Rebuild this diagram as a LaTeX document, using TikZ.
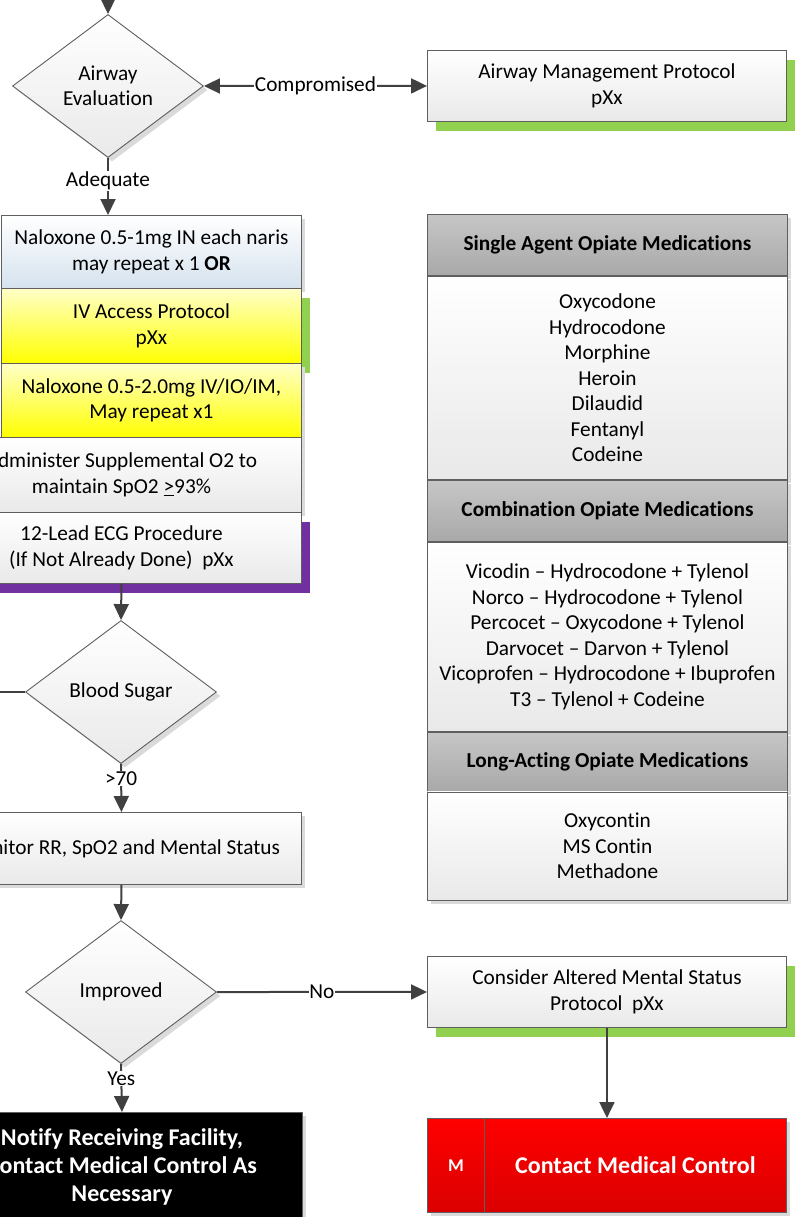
\documentclass[tikz,border=0pt]{standalone}
\usepackage{fontspec}
\setmainfont{Carlito}[Ligatures={NoCommon}]
\usetikzlibrary{arrows.meta,shapes.geometric,shadows}

\definecolor{wire}{HTML}{404040}
\definecolor{rim}{HTML}{5F5F5F}
\definecolor{paper}{HTML}{E9E9E9}
\definecolor{softshadow}{HTML}{DADADA}
\definecolor{protgreen}{HTML}{92D050}
\definecolor{procpurple}{HTML}{7030A0}
\definecolor{paleblue}{HTML}{D5E2EE}
\definecolor{paleyellow}{HTML}{FFFFC8}
\definecolor{fullyellow}{HTML}{FFFF00}
\definecolor{headtop}{HTML}{C6C6C6}
\definecolor{headbottom}{HTML}{A9A9A9}
\definecolor{alarmtop}{HTML}{FF0000}
\definecolor{alarmbottom}{HTML}{DA0000}

\tikzset{
  body text/.style={font=\fontsize{21.3}{25.5}\selectfont, align=center, text=black},
  stepbox/.style={body text, rectangle, draw=rim, line width=0.9pt,
    top color=white, bottom color=paper, inner sep=0pt, anchor=north west},
  decision/.style={body text, diamond, draw=rim, line width=0.9pt,
    top color=white, bottom color=paper, inner sep=0pt,
    minimum width=191pt, minimum height=143pt},
  soft shadow/.style={drop shadow={shadow xshift=4pt, shadow yshift=-4pt, fill=softshadow, opacity=1}},
  green shadow/.style={drop shadow={shadow xshift=9pt, shadow yshift=-10pt, fill=protgreen, opacity=1}},
  purple shadow/.style={drop shadow={shadow xshift=9pt, shadow yshift=-10pt, fill=procpurple, opacity=1}},
  yellowbox/.style={top color=paleyellow, bottom color=fullyellow},
  tablehead/.style={stepbox, top color=headtop, bottom color=headbottom,
    font=\fontsize{21.3}{25.5}\selectfont\bfseries, minimum width=360pt},
  tablebody/.style={stepbox, top color=white, bottom color=paper, minimum width=360pt},
  alarm/.style={stepbox, top color=alarmtop, bottom color=alarmbottom, text=white,
    font=\fontsize{24}{28}\selectfont\bfseries},
  flow/.style={draw=wire, line width=2pt, -{Triangle[length=16pt,width=15pt]}},
  bothways/.style={draw=wire, line width=2pt,
    {Triangle[length=16pt,width=15pt]}-{Triangle[length=16pt,width=15pt]}},
  plainwire/.style={draw=wire, line width=2pt},
  tag/.style={body text, fill=white, inner sep=0.8pt},
}

\begin{document}
\begin{tikzpicture}[x=1pt,y=-1pt]
\useasboundingbox (0,0) rectangle (797,1217);
\clip (0,0) rectangle (797,1217);

% ---- main column ----
\coordinate (entry) at (108,-20);
\node[decision, soft shadow] (airway) at (108,86) {Airway\\Evaluation};
\node[stepbox, green shadow, minimum width=359pt, minimum height=71pt] (amp) at (427,50)
  {Airway Management Protocol\\pXx};

\node[stepbox, soft shadow, bottom color=paleblue, minimum width=300pt, minimum height=73pt] (nalin) at (1,215)
  {Naloxone 0.5-1mg IN each naris\\may repeat x 1 \textbf{OR}};
\node[stepbox, yellowbox, green shadow, minimum width=300pt, minimum height=75pt] (ivap) at (1,288)
  {IV Access Protocol\\pXx};
\node[stepbox, yellowbox, soft shadow, minimum width=300pt, minimum height=74pt] (nalv) at (1,363)
  {Naloxone 0.5-2.0mg IV/IO/IM,\\May repeat x1};
\node[stepbox, soft shadow, minimum width=360pt, minimum height=75pt] (oxy) at (-59,437)
  {Administer Supplemental O2 to\\maintain SpO2 \underline{>}93\%};
\node[stepbox, purple shadow, minimum width=360pt, minimum height=71pt] (ecg) at (-59,512)
  {12-Lead ECG Procedure\\(If Not Already Done)\ \ pXx};

\node[decision, soft shadow] (sugar) at (121,692) {Blood Sugar};
\coordinate (lowbranch) at (-30,692);
\node[stepbox, soft shadow, minimum width=360pt, minimum height=72pt] (watch) at (-59,812)
  {Monitor RR, SpO2 and Mental Status};
\node[decision, soft shadow] (better) at (121,992) {Improved};
\node[stepbox, soft shadow, top color=black, bottom color=black, text=white,
  font=\fontsize{24}{28}\selectfont\bfseries, minimum width=361pt, minimum height=110pt] (notify) at (-59,1112)
  {Notify Receiving Facility,\\Contact Medical Control As\\Necessary};

% ---- right column ----
\node[stepbox, green shadow, minimum width=359pt, minimum height=71pt] (cams) at (427,956)
  {Consider Altered Mental Status\\Protocol\ \ pXx};
\node[alarm, soft shadow, font=\fontsize{18}{20}\selectfont\bfseries,
  minimum width=57pt, minimum height=94pt] (mctag) at (427,1118) {M};
\node[alarm, soft shadow, minimum width=302pt, minimum height=94pt] (mcall) at (484,1118)
  {Contact Medical Control};

% ---- opiate reference table ----
\node[tablehead, soft shadow, minimum height=61pt] (h1) at (427,214) {Single Agent Opiate Medications};
\node[tablebody, soft shadow, minimum height=203pt] (b1) at (h1.south west)
  {Oxycodone\\Hydrocodone\\Morphine\\Heroin\\Dilaudid\\Fentanyl\\Codeine};
\node[tablehead, soft shadow, minimum height=61pt] (h2) at (b1.south west) {Combination Opiate Medications};
\node[tablebody, soft shadow, minimum height=189pt] (b2) at (h2.south west)
  {Vicodin – Hydrocodone + Tylenol\\Norco – Hydrocodone + Tylenol\\Percocet – Oxycodone + Tylenol\\
   Darvocet – Darvon + Tylenol\\Vicoprofen – Hydrocodone + Ibuprofen\\T3 – Tylenol + Codeine};
\node[tablehead, soft shadow, minimum height=59pt] (h3) at (b2.south west) {Long-Acting Opiate Medications};
\node[tablebody, soft shadow, minimum height=108pt] (b3) at (h3.south west)
  {Oxycontin\\MS Contin\\Methadone};

% ---- connectors ----
\draw[flow] (entry) -- (airway.north);
\draw[bothways] (airway.east) -- node[tag] {Compromised} (amp.west);
\draw[flow] (airway.south) -- node[tag, pos=0.4] {Adequate} (airway.south |- nalin.north);
\draw[flow] (ecg.south) -- (sugar.north);
\draw[plainwire] (sugar.west) -- (lowbranch);
\draw[flow] (sugar.south) -- node[tag, pos=0.3] {>70} (watch.north);
\draw[flow] (watch.south) -- (better.north);
\draw[flow] (better.east) -- node[tag] {No} (cams.west);
\draw[flow] (better.south) -- node[tag, pos=0.3] {Yes} (notify.north);
\draw[flow] (cams.south) -- (cams.south |- mcall.north);
\end{tikzpicture}
\end{document}
